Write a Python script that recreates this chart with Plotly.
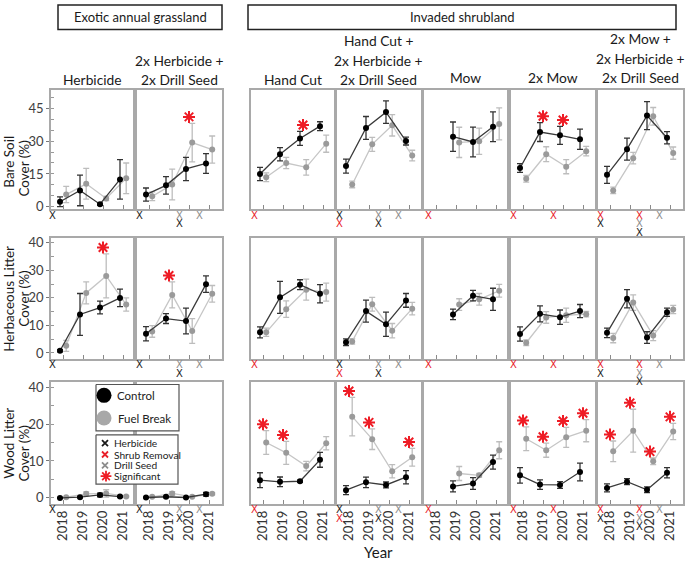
import plotly.graph_objects as go

W, H = 685, 564
FONT = "Lato, 'Open Sans', sans-serif"

years = [2018, 2019, 2020, 2021]
col_titles = [
    ["Herbicide"],
    ["2x Herbicide +", "2x Drill Seed"],
    ["Hand Cut"],
    ["Hand Cut +", "2x Herbicide +", "2x Drill Seed"],
    ["Mow"],
    ["2x Mow"],
    ["2x Mow +", "2x Herbicide +", "2x Drill Seed"],
]
row_titles = [["Bare Soil", "Cover (%)"], ["Herbaceous Litter", "Cover (%)"], ["Wood Litter", "Cover (%)"]]
group_titles = ["Exotic annual grassland", "Invaded shrubland"]

# ---------------- data (mean, SE) per panel: 7 treatments x 4 years ----------------
bare_ctrl = [[2.3, 7.5, 1.2, 12.5], [5.6, 9.8, 17.3, 19.8], [15.0, 24.0, 31.2, 36.8],
             [18.6, 36.0, 43.2, 30.0], [None, 32.0, 29.6, 36.5], [17.7, 34.1, 32.6, 30.8],
             [14.6, 26.3, 41.6, 31.5]]
bare_ctrl_err = [[2.2, 7.0, 0.5, 9.0], [3.0, 4.0, 5.3, 4.5], [3.0, 3.0, 3.2, 2.0],
                 [3.2, 5.2, 5.1, 1.8], [None, 6.7, 6.8, 6.8], [2.0, 4.3, 4.1, 4.6],
                 [3.9, 5.0, 6.4, 2.8]]
bare_fb = [[5.6, 10.5, 3.8, 13.0], [4.8, 10.2, 29.3, 26.1], [13.5, 20.0, 18.0, 28.8],
           [10.2, 28.5, 37.2, 23.4], [None, 29.4, 29.9, 37.8], [12.8, 24.0, 18.3, 25.4],
           [7.5, 22.2, 41.3, 24.5]]
bare_fb_err = [[3.7, 7.0, 1.0, 7.0], [2.0, 7.0, 8.8, 6.2], [2.0, 2.6, 3.5, 3.9],
               [1.5, 3.2, 4.9, 2.4], [None, 6.9, 6.0, 7.3], [1.5, 3.4, 3.2, 2.2],
               [1.5, 2.6, 4.0, 2.8]]
bare_sig = [[], [2020], [2020], [], [], [2019, 2020], []]

herb_ctrl = [[0.8, 14.0, 16.5, 20.0], [7.0, 12.5, 11.6, 25.0], [7.5, 20.2, 24.8, 21.5],
             [3.9, 15.2, 10.4, 19.1], [None, 14.0, 20.8, 19.5], [6.9, 14.2, 13.0, 15.2],
             [7.3, 19.7, 5.6, 14.8]]
herb_ctrl_err = [[0.4, 7.6, 2.3, 3.2], [2.6, 1.8, 4.7, 3.0], [2.0, 5.8, 1.8, 3.3],
                 [1.2, 4.0, 4.4, 2.5], [None, 1.9, 1.9, 4.0], [2.6, 2.9, 2.6, 2.4],
                 [1.7, 3.3, 2.1, 1.5]]
herb_fb = [[2.6, 21.8, 28.0, 17.6], [7.8, 21.1, 8.0, 21.5], [7.5, 15.9, 23.0, 22.1],
           [4.2, 17.7, 8.1, 16.1], [None, 17.6, 19.5, 22.6], [3.7, 12.9, 13.7, 14.1],
           [5.4, 18.3, 6.3, 15.8]]
herb_fb_err = [[2.0, 4.0, 8.0, 2.4], [2.1, 4.7, 4.5, 3.0], [1.5, 3.0, 3.8, 3.3],
               [1.0, 2.5, 2.6, 2.3], [None, 2.1, 2.1, 2.3], [1.0, 2.1, 2.6, 1.0],
               [1.7, 2.8, 1.8, 1.5]]
herb_sig = [[2020], [2019], [], [], [], [], []]

wood_ctrl = [[0.0, 0.2, 0.8, 0.35], [0.1, 0.3, 0.1, 1.0], [4.8, 4.35, 4.5, 10.3],
             [2.1, 4.2, 3.5, 5.6], [None, 3.1, 3.9, 9.7], [6.1, 3.6, 3.5, 7.0],
             [2.7, 4.4, 2.2, 6.8]]
wood_ctrl_err = [[0.1, 0.2, 0.5, 0.2], [0.1, 0.2, 0.1, 0.5], [2.0, 1.3, 0.3, 2.0],
                 [1.2, 1.4, 0.8, 1.8], [None, 1.5, 1.6, 1.9], [2.1, 1.3, 0.9, 2.4],
                 [1.1, 0.8, 0.8, 1.4]]
wood_fb = [[0.2, 1.1, 1.2, 0.4], [0.3, 1.2, 0.3, 1.1], [15.0, 12.2, 8.6, 14.8],
           [22.0, 15.9, 7.2, 11.0], [None, 6.6, 6.1, 12.9], [16.0, 12.9, 16.4, 18.2],
           [12.6, 18.2, 9.9, 18.0]]
wood_fb_err = [[0.1, 0.5, 1.0, 0.2], [0.1, 0.5, 0.1, 0.3], [3.2, 3.1, 1.3, 1.8],
               [5.2, 2.8, 1.8, 2.4], [None, 1.9, 0.5, 2.3], [3.2, 1.9, 2.7, 3.0],
               [2.8, 5.8, 0.9, 2.2]]
wood_sig = [[], [], [2018, 2019], [2018, 2019, 2021], [], [2018, 2019, 2020, 2021],
            [2018, 2019, 2020, 2021]]

# treatment applications: (time in years, type, stacking level)
# H = Herbicide, S = Shrub Removal, D = Drill Seed
treatments = [
    [(2017.45, "H", 1)],
    [(2017.5, "H", 1), (2019.5, "D", 1), (2019.5, "H", 2), (2020.5, "D", 1)],
    [(2017.55, "S", 1)],
    [(2017.5, "H", 1), (2017.5, "S", 2), (2019.45, "D", 1), (2019.45, "H", 2), (2020.45, "D", 1)],
    [(2017.6, "S", 1)],
    [(2017.5, "S", 1), (2019.5, "S", 1)],
    [(2017.5, "S", 1), (2017.5, "H", 2), (2019.45, "S", 1), (2019.45, "D", 2),
     (2019.45, "H", 3), (2020.45, "D", 1)],
]

# y tick step per row, and tick label aliases (wood litter axis labels its top tick "40")
row_dtick = [15, 10, 10]
row_label_alias = [{}, {}, {30: "40"}]

# ---------------- layout geometry (pixels) ----------------
col_px = [(51, 133), (137, 222), (251, 334), (337, 421), (424, 507), (511, 595), (598, 683)]
row_px = [(88, 209), (238, 361), (384, 508)]
row_range = [(-1.0, 53.4), (-2.15, 41.9), (-1.6, 31.5)]
PX_PER_YEAR = 20.0
X0 = 2017.4

C_CTRL, C_CTRL_LINE, C_CTRL_ERR = "#000000", "#3a3a3a", "#333333"
C_FB, C_FB_LINE, C_FB_ERR = "#9a9a9a", "#c6c6c6", "#bdbdbd"
TREAT_COL = {"H": "#1a1a1a", "S": "#e8202a", "D": "#8c8c8c"}
RED = "#ee1c25"

rows_data = [
    (bare_ctrl, bare_ctrl_err, bare_fb, bare_fb_err, bare_sig),
    (herb_ctrl, herb_ctrl_err, herb_fb, herb_fb_err, herb_sig),
    (wood_ctrl, wood_ctrl_err, wood_fb, wood_fb_err, wood_sig),
]

fig = go.Figure()
layout = dict(width=W, height=H, margin=dict(l=0, r=0, t=0, b=0), showlegend=False,
              plot_bgcolor="rgba(0,0,0,0)", paper_bgcolor="white", font=dict(family=FONT))
annotations, shapes = [], []


def px2x(p):
    return p / W


def px2y(p):
    return 1 - p / H


def ax_id(k):
    s = "" if k == 1 else str(k)
    return "x" + s, "y" + s, "xaxis" + s, "yaxis" + s


for r in range(3):
    ctrl, ctrl_e, fb, fb_e, sig = rows_data[r]
    y0p, y1p = row_px[r]
    lo, hi = row_range[r]
    upp = (y1p - y0p) / (hi - lo)  # pixels per unit
    for c in range(7):
        k = r * 7 + c + 1
        xa, ya, xkey, ykey = ax_id(k)
        x0p, x1p = col_px[c]
        xr = [X0, X0 + (x1p - x0p) / PX_PER_YEAR]
        layout[xkey] = dict(
            domain=[px2x(x0p), px2x(x1p)], range=xr, anchor=ya,
            tickmode="linear", tick0=2018, dtick=1,
            ticks="inside", ticklen=4, tickwidth=1, tickcolor="#8a8a8a",
            showticklabels=(r == 2), tickangle=-90,
            tickfont=dict(size=13, color="#333333", family=FONT),
            showline=True, mirror=True, linecolor="#a9a9a9", linewidth=1.5,
            showgrid=False, zeroline=False, fixedrange=True)
        ydict = dict(domain=[px2y(y1p), px2y(y0p)], range=[lo, hi], anchor=xa,
                     showline=True, mirror=True, linecolor="#a9a9a9", linewidth=1.5,
                     showgrid=False, zeroline=False, fixedrange=True)
        if c == 0:
            ydict.update(tickmode="linear", tick0=0, dtick=row_dtick[r], ticks="outside",
                         ticklen=3, tickcolor="#777777", showticklabels=True,
                         tickfont=dict(size=13, color="#404040", family=FONT),
                         minor=dict(dtick=5, tick0=0, ticks="inside", ticklen=3,
                                    tickcolor="#999999", showgrid=False))
            if row_label_alias[r]:
                ydict["labelalias"] = row_label_alias[r]
        else:
            ydict.update(showticklabels=False, ticks="")
        layout[ykey] = ydict

        # series
        for vals, errs, off, mc, lc, ec in [
            (fb[c], fb_e[c], 0.16, C_FB, C_FB_LINE, C_FB_ERR),
            (ctrl[c], ctrl_e[c], -0.15, C_CTRL, C_CTRL_LINE, C_CTRL_ERR),
        ]:
            xs = [yr + off for yr, v in zip(years, vals) if v is not None]
            ys = [v for v in vals if v is not None]
            es = [e for v, e in zip(vals, errs) if v is not None]
            fig.add_trace(go.Scatter(
                x=xs, y=ys, xaxis=xa, yaxis=ya, mode="lines+markers",
                line=dict(color=lc, width=1.3),
                marker=dict(color=mc, size=6, line=dict(width=0)),
                error_y=dict(type="data", array=es, visible=True, color=ec,
                             thickness=1.3, width=3),
                cliponaxis=False, hoverinfo="skip"))

        # significance asterisks above the taller error bar
        sx, sy = [], []
        for yr in sig[c]:
            i = years.index(yr)
            top = max(ctrl[c][i] + ctrl_e[c][i], fb[c][i] + fb_e[c][i])
            sx.append(yr)
            sy.append(top + 6.5 / upp)
        if sx:
            fig.add_trace(go.Scatter(
                x=sx, y=sy, xaxis=xa, yaxis=ya, mode="markers",
                marker=dict(symbol="asterisk-open", size=10, color=RED,
                            line=dict(color=RED, width=2)),
                cliponaxis=False, hoverinfo="skip"))

        # treatment application marks below the panel
        for t, typ, lvl in treatments[c]:
            annotations.append(dict(
                x=t, y=0, xref=xa, yref=f"{ya} domain", text="X", showarrow=False,
                xanchor="center", yanchor="middle", yshift=-6 - (lvl - 1) * 8.5,
                font=dict(size=10, color=TREAT_COL[typ], family="DejaVu Sans")))

# column titles
col_title_y = {1: [78], 2: [58, 78], 3: [38, 58, 78]}
for c in range(7):
    cx = (col_px[c][0] + col_px[c][1]) / 2
    lines = col_titles[c]
    ys = col_title_y[len(lines)]
    if c >= 4:
        ys = [v - 2 for v in ys]
    for txt, yy in zip(lines, ys):
        annotations.append(dict(x=px2x(cx), y=px2y(yy), xref="paper", yref="paper",
                                text=txt, showarrow=False, xanchor="center",
                                yanchor="middle",
                                font=dict(size=13.8, color="#1a1a1a", family=FONT)))

# group header boxes
for (bx0, bx1), txt in zip([(58, 222), (248, 676)], group_titles):
    shapes.append(dict(type="rect", xref="paper", yref="paper", x0=px2x(bx0), x1=px2x(bx1),
                       y0=px2y(27), y1=px2y(2), line=dict(color="#222222", width=1.5),
                       fillcolor="white"))
    annotations.append(dict(x=px2x((bx0 + bx1) / 2), y=px2y(14.5), xref="paper", yref="paper",
                            text=txt, showarrow=False, xanchor="center", yanchor="middle",
                            font=dict(size=13, color="#1a1a1a", family=FONT)))

# row titles
row_title_pos = [(161, 168), (300, 300), (447, 457)]
for r in range(3):
    for j, (txt, yy) in enumerate(zip(row_titles[r], row_title_pos[r])):
        annotations.append(dict(x=px2x(9 + j * 15), y=px2y(yy), xref="paper", yref="paper",
                                text=txt, textangle=-90, showarrow=False,
                                xanchor="center", yanchor="middle",
                                font=dict(size=13.5, color="#1a1a1a", family=FONT)))

annotations.append(dict(x=px2x(378), y=px2y(557), xref="paper", yref="paper", text="Year",
                        showarrow=False, xanchor="center", yanchor="middle",
                        font=dict(size=15, color="#1a1a1a", family=FONT)))

# ---------------- legend (overlay axis in pixel coordinates) ----------------
layout["xaxis22"] = dict(domain=[0, 1], range=[0, W], visible=False, fixedrange=True, anchor="y22")
layout["yaxis22"] = dict(domain=[0, 1], range=[H, 0], visible=False, fixedrange=True, anchor="x22")
for (lx0, lx1, ly0, ly1) in [(96, 179, 387, 434), (96, 178, 438, 488)]:
    fig.add_trace(go.Scatter(x=[lx0, lx1, lx1, lx0, lx0], y=[ly0, ly0, ly1, ly1, ly0],
                             xaxis="x22", yaxis="y22", mode="lines", fill="toself",
                             fillcolor="white", line=dict(color="#555555", width=1.2),
                             hoverinfo="skip"))
fig.add_trace(go.Scatter(x=[104, 104], y=[398, 421], xaxis="x22", yaxis="y22", mode="markers",
                         marker=dict(size=15, color=[C_CTRL, "#a8a8a8"]), hoverinfo="skip"))
fig.add_trace(go.Scatter(x=[105, 105, 105], y=[446.5, 458, 469], xaxis="x22", yaxis="y22",
                         mode="markers",
                         marker=dict(symbol="x-thin-open", size=6,
                                     color=[TREAT_COL["H"], TREAT_COL["S"], TREAT_COL["D"]],
                                     line=dict(width=1.8)),
                         hoverinfo="skip"))
fig.add_trace(go.Scatter(x=[106], y=[480], xaxis="x22", yaxis="y22", mode="markers",
                         marker=dict(symbol="asterisk-open", size=9, color=RED,
                                     line=dict(color=RED, width=1.8)), hoverinfo="skip"))
leg_text = [("Control", 115, 398, 11.5), ("Fuel Break", 116, 421, 11.5),
            ("Herbicide", 112, 446.5, 10.2), ("Shrub Removal", 112, 458, 10.2),
            ("Drill Seed", 112, 469, 10.2), ("Significant", 112, 480, 10.2)]
for txt, tx, ty, fs in leg_text:
    annotations.append(dict(x=px2x(tx), y=px2y(ty), xref="paper", yref="paper", text=txt,
                            showarrow=False, xanchor="left", yanchor="middle",
                            font=dict(size=fs, color="#222222", family=FONT)))

layout["annotations"] = annotations
layout["shapes"] = shapes
fig.update_layout(**layout)
fig.write_html("out.html", config={"displayModeBar": False},
               post_script="document.body.style.margin='0';")
